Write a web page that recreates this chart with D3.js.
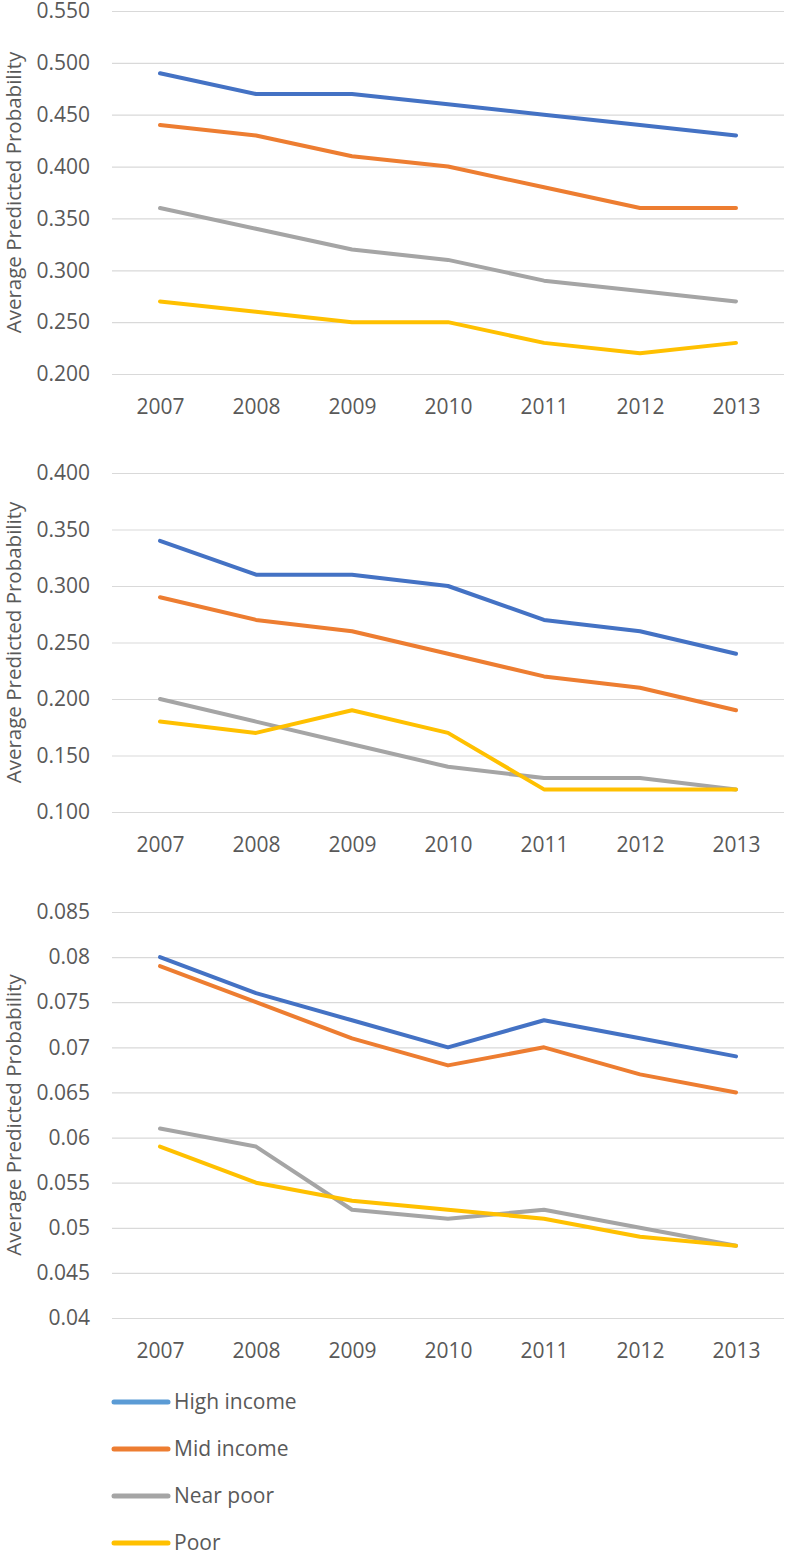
<!DOCTYPE html>
<html><head><meta charset="utf-8">
<script src="https://cdn.jsdelivr.net/npm/d3@7"></script>
<style>
html,body{margin:0;padding:0;background:#fff;}
svg{display:block;}
</style></head>
<body>
<script>
const years = ["2007","2008","2009","2010","2011","2012","2013"];
const seriesNames = ["High income","Mid income","Near poor","Poor"];
const lineColors = ["#4472C4","#ED7D31","#A5A5A5","#FFC000"];
const legendColors = ["#5B9BD5","#ED7D31","#A5A5A5","#FFC000"];

const p1High = [0.49,0.47,0.47,0.46,0.45,0.44,0.43];
const p1Mid  = [0.44,0.43,0.41,0.40,0.38,0.36,0.36];
const p1Near = [0.36,0.34,0.32,0.31,0.29,0.28,0.27];
const p1Poor = [0.27,0.26,0.25,0.25,0.23,0.22,0.23];
const p1Ticks = [0.200,0.250,0.300,0.350,0.400,0.450,0.500,0.550];

const p2High = [0.34,0.31,0.31,0.30,0.27,0.26,0.24];
const p2Mid  = [0.29,0.27,0.26,0.24,0.22,0.21,0.19];
const p2Near = [0.20,0.18,0.16,0.14,0.13,0.13,0.12];
const p2Poor = [0.18,0.17,0.19,0.17,0.12,0.12,0.12];
const p2Ticks = [0.100,0.150,0.200,0.250,0.300,0.350,0.400];

const p3High = [0.080,0.076,0.073,0.070,0.073,0.071,0.069];
const p3Mid  = [0.079,0.075,0.071,0.068,0.070,0.067,0.065];
const p3Near = [0.061,0.059,0.052,0.051,0.052,0.050,0.048];
const p3Poor = [0.059,0.055,0.053,0.052,0.051,0.049,0.048];
const p3Ticks = [0.040,0.045,0.050,0.055,0.060,0.065,0.070,0.075,0.080,0.085];

const yTitle = "Average Predicted Probability";

const W = 787, H = 1553;
const svg = d3.select("body").append("svg").attr("width", W).attr("height", H);
const FONT = "'Open Sans', 'Segoe UI', sans-serif";
const TXT = "#595959";
const FS = "21px";

const x = d3.scalePoint().domain(years).range([112, 784]).padding(0.5);

function panel(series, ticks, fmt, top, bottom) {
  const y = d3.scaleLinear().domain([ticks[0], ticks[ticks.length-1]]).range([bottom, top]);
  const g = svg.append("g");
  const ya = d3.axisLeft(y).tickValues(ticks).tickSize(-(784-112)).tickFormat(d3.format(fmt)).tickPadding(22);
  const ag = g.append("g").attr("transform", "translate(112,0)").call(ya);
  ag.select(".domain").remove();
  ag.selectAll(".tick line").attr("stroke", "#d9d9d9").attr("stroke-width", 1.2);
  ag.selectAll(".tick text").attr("fill", TXT).style("font-family", FONT).style("font-size", FS);
  const xa = d3.axisBottom(x).tickSize(0).tickPadding(33);
  const xg = g.append("g").attr("transform", `translate(0,${bottom})`).call(xa);
  xg.select(".domain").remove();
  xg.selectAll(".tick text").attr("fill", TXT).style("font-family", FONT).style("font-size", FS).attr("dy", "0.34em");
  g.append("text")
    .attr("transform", `translate(14,${(top+bottom)/2}) rotate(-90)`)
    .attr("text-anchor", "middle").attr("dy", "0.35em")
    .attr("fill", TXT).style("font-family", FONT).style("font-size", "20.5px")
    .text(yTitle);
  const line = d3.line().x((d,i) => x(years[i])).y(d => y(d));
  series.forEach((s, i) => {
    g.append("path").datum(s).attr("d", line)
      .attr("fill", "none").attr("stroke", lineColors[i]).attr("stroke-width", 4)
      .attr("stroke-linejoin", "round").attr("stroke-linecap", "round");
  });
}

panel([p1High,p1Mid,p1Near,p1Poor], p1Ticks, ".3f", 11, 374);
panel([p2High,p2Mid,p2Near,p2Poor], p2Ticks, ".3f", 473, 812);
panel([p3High,p3Mid,p3Near,p3Poor], p3Ticks, ".3~f", 912, 1318);

const lg = svg.append("g");
seriesNames.forEach((n, i) => {
  const yy = 1402 + i * 47;
  lg.append("line").attr("x1", 114).attr("x2", 168).attr("y1", yy).attr("y2", yy)
    .attr("stroke", legendColors[i]).attr("stroke-width", 5).attr("stroke-linecap", "round");
  lg.append("text").attr("x", 174).attr("y", yy).attr("dy", "0.35em")
    .attr("fill", TXT).style("font-family", FONT).style("font-size", FS).text(n);
});
</script>
</body></html>
